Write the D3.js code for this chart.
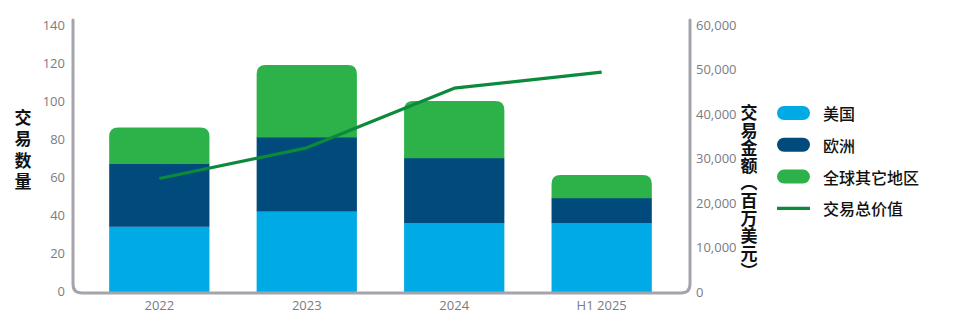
<!DOCTYPE html>
<html>
<head>
<meta charset="utf-8">
<script src="https://cdn.jsdelivr.net/npm/d3@7"></script>
<style>
  html, body { margin: 0; padding: 0; background: #fff; }
  svg { display: block; }
</style>
</head>
<body>
<svg id="chart" width="954" height="326"></svg>
<script>
// Deal data by period
const periods = ["2022", "2023", "2024", "H1 2025"];
const usCount = [34, 42, 36, 36];
const europeCount = [33, 39, 34, 13];
const otherCount = [19, 38, 30, 12];
const totalValue = [25500, 32400, 45800, 49400];

const countTicks = [0, 20, 40, 60, 80, 100, 120, 140];
const valueTicks = [0, 10000, 20000, 30000, 40000, 50000, 60000];

const seriesNames = ["美国", "欧洲", "全球其它地区"];
const seriesColors = ["#00aae4", "#004a7c", "#2db24a"];
const lineName = "交易总价值";
const lineColor = "#0b8a3b";
const leftTitle = "交易数量";
const rightTitle = "交易金额（百万美元）";

const svg = d3.select("#chart");
const numFont = "'Open Sans', 'Noto Sans', sans-serif";
const cjkFont = "'Noto Sans CJK SC', 'Noto Sans', sans-serif";

const x = d3.scaleBand().domain(periods).range([62, 699]).padding(0.32);
const yCount = d3.scaleLinear().domain([0, 140]).range([291, 25]);
const yValue = d3.scaleLinear().domain([0, 60000]).range([292, 25]);

// stacked counts
const rows = periods.map((p, i) => ({ period: p, s0: usCount[i], s1: europeCount[i], s2: otherCount[i] }));
const stack = d3.stack().keys(["s0", "s1", "s2"])(rows);

function topRounded(x0, y0, w, h, r) {
  r = Math.min(r, h, w / 2);
  return `M${x0},${y0 + h}V${y0 + r}Q${x0},${y0} ${x0 + r},${y0}H${x0 + w - r}Q${x0 + w},${y0} ${x0 + w},${y0 + r}V${y0 + h}Z`;
}

const barG = svg.append("g");
stack.forEach((layer, li) => {
  barG.selectAll(null).data(layer).enter().append("path")
    .attr("fill", seriesColors[li])
    .attr("d", d => {
      const x0 = x(d.data.period), w = x.bandwidth();
      const yt = yCount(d[1]), yb = yCount(d[0]) + (li === 0 ? 1.5 : 0.3);
      if (li === stack.length - 1) return topRounded(x0, yt, w, yb - yt, 9);
      return `M${x0},${yt}H${x0 + w}V${yb}H${x0}Z`;
    });
});

// total value line
const line = d3.line()
  .x((d, i) => x(periods[i]) + x.bandwidth() / 2)
  .y(d => yValue(d));
svg.append("path").datum(totalValue)
  .attr("d", line)
  .attr("fill", "none")
  .attr("stroke", lineColor)
  .attr("stroke-width", 3.2)
  .attr("stroke-linejoin", "round");

// U-shaped axis frame with rounded corners
const ax0 = 73, ax1 = 690, base = 293, topY = 20, rr = 9;
svg.append("path")
  .attr("d", `M${ax0},${topY}V${base - rr}Q${ax0},${base} ${ax0 + rr},${base}H${ax1 - rr}Q${ax1},${base} ${ax1},${base - rr}V${topY}`)
  .attr("fill", "none")
  .attr("stroke", "#a4a5ac")
  .attr("stroke-width", 3)
  .attr("stroke-linecap", "round");

// left ticks
const leftAxis = d3.axisLeft(yCount).tickValues(countTicks).tickSize(0).tickPadding(0);
const lg = svg.append("g").attr("transform", "translate(65,0)").call(leftAxis);
lg.select(".domain").remove();
lg.selectAll("text").attr("fill", "#7b7b82").style("font-family", numFont).style("font-size", "13px");

// right ticks
const rightAxis = d3.axisRight(yValue).tickValues(valueTicks).tickSize(0).tickPadding(0)
  .tickFormat(d3.format(","));
const rg = svg.append("g").attr("transform", "translate(696,0)").call(rightAxis);
rg.select(".domain").remove();
rg.selectAll("text").attr("fill", "#7b7b82").style("font-family", numFont).style("font-size", "13px");

// x labels
const xAxis = d3.axisBottom(x).tickSize(0).tickPadding(0);
const xg = svg.append("g").attr("transform", "translate(0,301)").call(xAxis);
xg.select(".domain").remove();
xg.selectAll("text").attr("fill", "#7b7b82").style("font-family", numFont).style("font-size", "13px");

// vertical axis titles
svg.append("text")
  .attr("x", 23).attr("y", 109)
  .style("writing-mode", "vertical-rl")
  .style("font-family", cjkFont).style("font-size", "17px").style("font-weight", 700)
  .style("letter-spacing", "4.3px")
  .attr("fill", "#111").text(leftTitle);

svg.append("text")
  .attr("x", 749).attr("y", 104)
  .style("writing-mode", "vertical-rl")
  .style("font-family", cjkFont).style("font-size", "17px").style("font-weight", 700)
  .style("letter-spacing", "0.6px")
  .attr("fill", "#111").text(rightTitle);

// legend
const legend = svg.append("g");
const legendItems = seriesNames.map((n, i) => ({ name: n, color: seriesColors[i], type: "bar" }))
  .concat([{ name: lineName, color: lineColor, type: "line" }]);
const ly = d => 113 + legendItems.indexOf(d) * 31.8;
legend.selectAll("rect").data(legendItems.filter(d => d.type === "bar")).enter().append("rect")
  .attr("x", 777).attr("y", d => ly(d) - 7).attr("width", 33).attr("height", 14)
  .attr("rx", 7).attr("fill", d => d.color);
legend.selectAll("line").data(legendItems.filter(d => d.type === "line")).enter().append("line")
  .attr("x1", 777).attr("x2", 810).attr("y1", ly).attr("y2", ly)
  .attr("stroke", d => d.color).attr("stroke-width", 3.2);
legend.selectAll("text").data(legendItems).enter().append("text")
  .attr("x", 823).attr("y", ly).attr("dominant-baseline", "central")
  .style("font-family", cjkFont).style("font-size", "16px").style("font-weight", 500)
  .attr("fill", "#111").text(d => d.name);
</script>
</body>
</html>
